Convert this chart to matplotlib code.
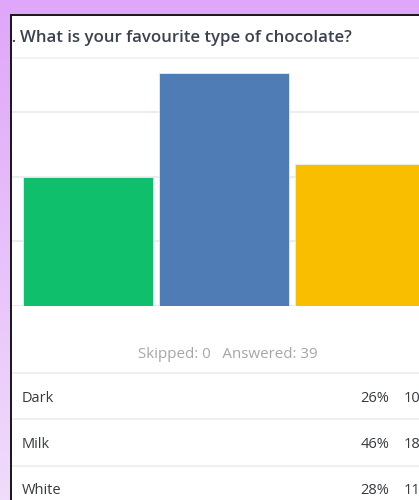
import matplotlib
matplotlib.use("Agg")
import matplotlib.pyplot as plt
import numpy as np
from matplotlib.patches import Rectangle

# ---- data ----
question_no = "1."
title = "What is your favourite type of chocolate?"
categories = ["Dark", "Milk", "White"]
counts = [10, 18, 11]
percents = ["26%", "46%", "28%"]
skipped = 0
answered = 39
grid_ticks = [0, 5, 10, 15, 20]
bar_colors = ["#10bf6c", "#507cb6", "#f9be00"]

W, H = 419, 500
fig = plt.figure(figsize=(W / 100, H / 100), dpi=100)
fig.patch.set_facecolor("white")

def fx(x):
    return x / W

def fy(y):
    return 1 - y / H

font = ["Open Sans", "DejaVu Sans"]

# ---- bar chart axes ----
top, bottom, left, right = 58, 306, 12, 419
ax = fig.add_axes([fx(left), fy(bottom), fx(right - left), (bottom - top) / H])
ax.set_facecolor("white")
x = np.arange(len(categories))
ax.bar(x, counts, width=0.963, color=bar_colors, edgecolor="#e6eef0", linewidth=0.6, zorder=3)
ax.set_yticks(grid_ticks)
ax.set_xlim(-0.559, 2.434)
ax.set_ylim(0, (bottom - top) / 12.95)
ax.yaxis.grid(True, color="#e9e9e9", linewidth=1.2, zorder=0)
ax.tick_params(left=False, bottom=False, labelleft=False, labelbottom=False)
for s in ax.spines.values():
    s.set_visible(False)
ax.axhline(0, color="#e6e6e6", linewidth=1.2, zorder=1)

# ---- title ----
fig.text(fx(16.5), fy(37.5), question_no, fontsize=12.1, fontweight="semibold",
         color="#3a424d", family=font, va="center", ha="right", zorder=1)
fig.text(fx(20), fy(37.5), title, fontsize=12.1, fontweight="semibold",
         color="#3a424d", family=font, va="center", ha="left", zorder=1)

# separators
def hline(y, color="#eeeeee", lw=1.2):
    fig.add_artist(plt.Line2D([fx(12), 1], [fy(y), fy(y)], color=color, linewidth=lw, zorder=2))

hline(58, "#f0f0f0")
hline(373, "#eeeeee")
hline(419, "#eeeeee")
hline(466, "#eeeeee")

# skipped / answered
fig.text(fx(228), fy(354.5), f"Skipped: {skipped}   Answered: {answered}", fontsize=10.9,
         color="#a2a7ad", family=font, ha="center", va="center")

# table rows
row_y = [399, 444, 491]
for cat, pct, cnt, yy in zip(categories, percents, counts, row_y):
    fig.text(fx(22), fy(yy), cat, fontsize=10.5, color="#363a3f", family=font, ha="left", va="center")
    fig.text(fx(389), fy(yy), pct, fontsize=10.5, color="#363a3f", family=font, ha="right", va="center")
    fig.text(fx(404), fy(yy), str(cnt), fontsize=10.5, color="#363a3f", family=font, ha="left", va="center")

# ---- purple background frame & black border (drawn on top) ----
grad_ax = fig.add_axes([0, 0, fx(10), 1], zorder=10)
grad = np.linspace(0, 1, 256).reshape(-1, 1)
c_top = np.array([0xdf, 0xa6, 0xf9]) / 255
c_bot = np.array([0xf0, 0xdc, 0xfb]) / 255
img = c_top[None, None, :] * (1 - grad[:, :, None]) + c_bot[None, None, :] * grad[:, :, None]
grad_ax.imshow(img, aspect="auto", extent=[0, 1, 1, 0])
grad_ax.axis("off")
fig.add_artist(Rectangle((0, fy(14)), 1, 14 / H, transform=fig.transFigure,
                         facecolor="#dfa6f9", edgecolor="none", zorder=11))
fig.add_artist(Rectangle((fx(10), 0), fx(2.2), fy(14), transform=fig.transFigure,
                         facecolor="#1a1a1f", edgecolor="none", zorder=12))
fig.add_artist(Rectangle((fx(10), fy(16.2)), 1, 2.2 / H, transform=fig.transFigure,
                         facecolor="#1a1a1f", edgecolor="none", zorder=12))

fig.savefig("out.png", dpi=100)
